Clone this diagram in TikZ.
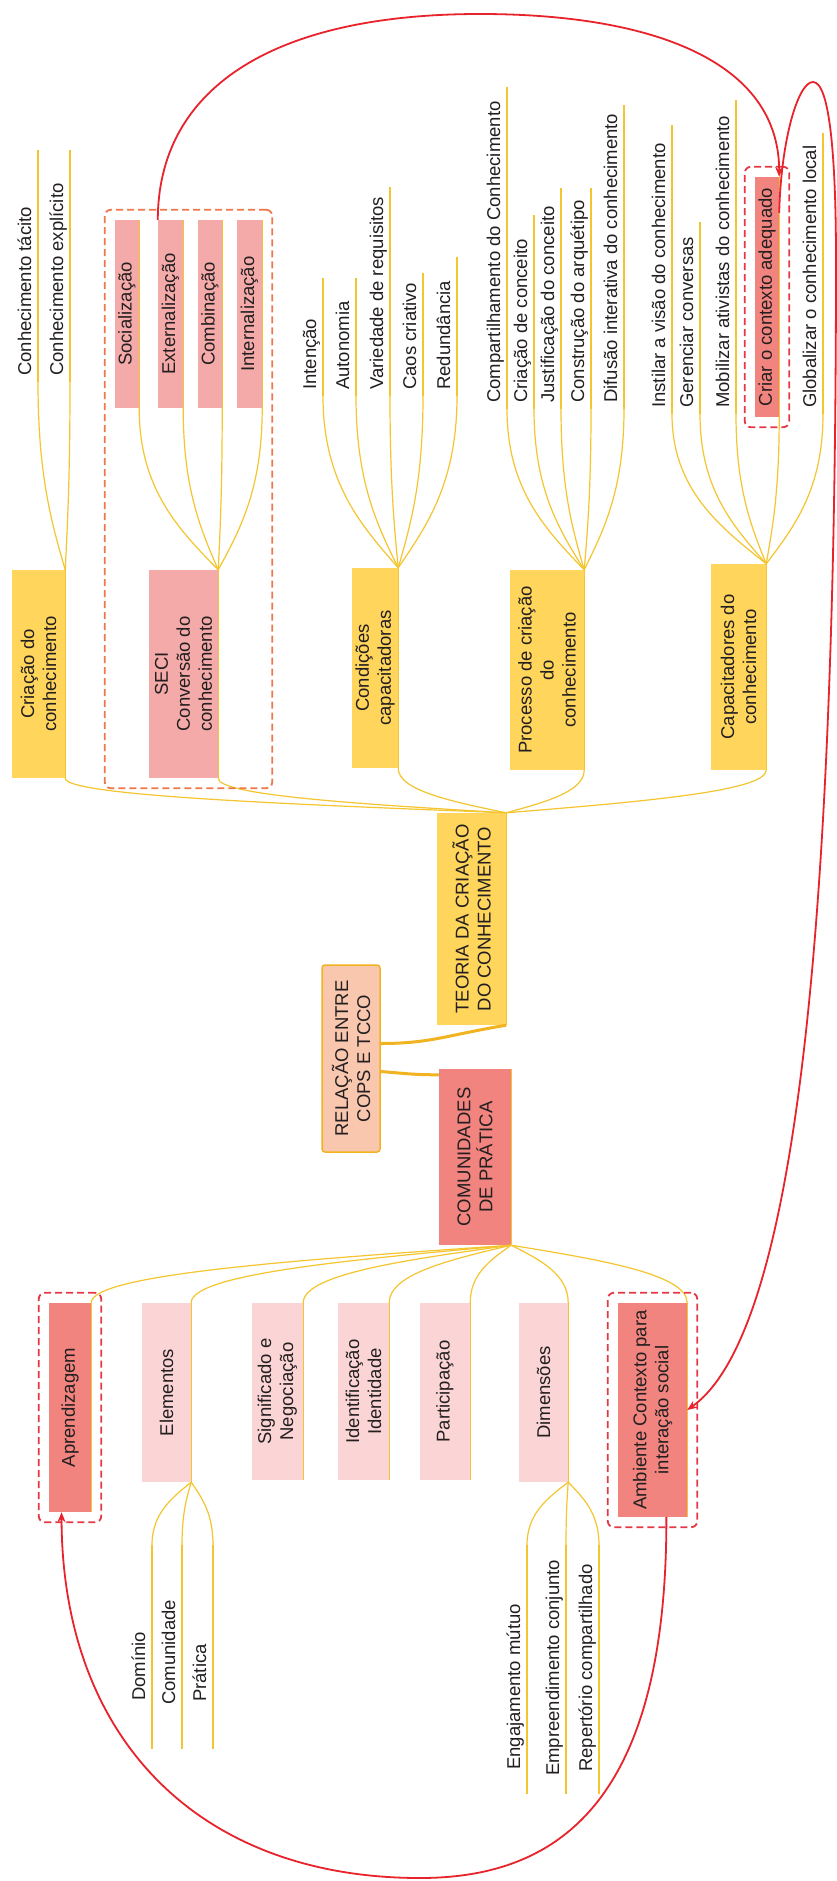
\documentclass[tikz,border=0pt]{standalone}
\usepackage{fontspec}
\setmainfont{Liberation Sans}
\usetikzlibrary{arrows.meta,calc,fit}
\definecolor{txtc}{HTML}{231F20}
\definecolor{ybox}{HTML}{FFD55C}
\definecolor{pbox}{HTML}{F5AAAA}
\definecolor{lpbox}{HTML}{FBD5D5}
\definecolor{sbox}{HTML}{F1847F}
\definecolor{relf}{HTML}{F9C7AE}
\definecolor{gold}{HTML}{F2B320}
\definecolor{brc}{HTML}{F4C52E}
\definecolor{redc}{HTML}{E8232B}
\definecolor{odash}{HTML}{EF774A}
\definecolor{rdash}{HTML}{E63844}
\newcommand\leaf[6]{%
  \coordinate (#1-t) at (#2,#3);
  \coordinate (#1-b) at (#2,#4);
  \node[leaftext] (#1) at ({#2-7},#5) {#6};
  \draw[uline] (#1-b) -- (#1-t);
}
\begin{document}
\begin{tikzpicture}[x=1pt,y=-1pt,
  txt/.style={font=\fontsize{18.5}{22}\selectfont, text=txtc},
  box/.style={txt, rotate=90, inner sep=0pt, align=center},
  leaftext/.style={txt, rotate=90, anchor=base west, inner sep=0pt},
  uline/.style={draw=brc, line width=1.2pt},
  branch/.style={draw=brc, line width=1.2pt, to path={let \p1=(\tikztostart), \p2=(\tikztotarget) in .. controls ({\x1+0.5*(\x2-\x1)},{\y1+0.25*(\y2-\y1)}) and (\x2,{0.5*(\y1+\y2)}) .. (\tikztotarget)}},
  trunk/.style={draw=gold, line width=3pt},
  dashbox/.style={dash pattern=on 7pt off 4pt, line width=1.8pt, rounded corners=6pt, inner sep=10pt},
  redarrow/.style={draw=redc, line width=1.8pt, -{Stealth[length=10pt,width=8pt]}}
]
\useasboundingbox (0,0) rectangle (837,1881);
\fill[white] (0,0) rectangle (837,1881);

% central nodes
\node[box, fill=relf, draw=gold, line width=1.5pt, rounded corners=3pt, minimum width=187pt, minimum height=58pt] (rel) at (351,1058.5) {RELAÇÃO ENTRE\\COPS E TCCO};
\node[box, fill=ybox, minimum width=212pt, minimum height=69pt] (teo) at (471.5,919) {TEORIA DA CRIAÇÃO\\DO CONHECIMENTO};
\node[box, fill=sbox, minimum width=176pt, minimum height=72pt] (com) at (475,1157) {COMUNIDADES\\DE PRÁTICA};
\draw[uline] (teo.south west) -- (teo.south east);
\draw[uline] (com.south west) -- (com.south east);

\draw[trunk] ($(rel.south)+(0,-15)$) .. controls +(50,0) and +(-60,10) .. (teo.south west);
\draw[trunk] ($(rel.south)+(0,13)$) .. controls +(25,2) and +(-25,0) .. ($(com.north east)+(0,6)$);

% TCCO second level
\node[box, fill=ybox, minimum width=208pt, minimum height=53pt] (crt) at (38.5,674) {Criação do\\conhecimento};
\node[box, fill=pbox, minimum width=208pt, minimum height=69pt] (seci) at (183.5,674) {SECI\\Conversão do\\conhecimento};
\node[box, fill=ybox, minimum width=200pt, minimum height=46pt] (cond) at (375,668) {Condições\\capacitadoras};
\node[box, fill=ybox, minimum width=200pt, minimum height=74pt] (proc) at (547,670) {Processo de criação\\do\\conhecimento};
\node[box, fill=ybox, minimum width=206pt, minimum height=55pt] (capa) at (738.5,667) {Capacitadores do\\conhecimento};
\foreach \nm in {crt,seci,cond,proc,capa} {\draw[uline] (\nm.south west) -- (\nm.south east);}
\draw[branch] (teo.south east) to (crt.south west);
\draw[branch] (teo.south east) to (seci.south west);
\draw[branch] (teo.south east) to (cond.south west);
\draw[branch] (teo.south east) to (proc.south west);
\draw[branch] (teo.south east) to (capa.south west);

% SECI children
\node[box, fill=pbox, minimum width=188pt, minimum height=24pt] (soc) at (127,314) {Socialização};
\node[box, fill=pbox, minimum width=188pt, minimum height=25pt] (ext) at (170.5,314) {Externalização};
\node[box, fill=pbox, minimum width=188pt, minimum height=24pt] (comb) at (210,314) {Combinação};
\node[box, fill=pbox, minimum width=188pt, minimum height=25pt] (intz) at (249.5,314) {Internalização};
\foreach \nm in {soc,ext,comb,intz} {\draw[uline] (\nm.south west) -- (\nm.south east);}
\draw[branch] (seci.south east) to (soc.south west);
\draw[branch] (seci.south east) to (ext.south west);
\draw[branch] (seci.south east) to (comb.south west);
\draw[branch] (seci.south east) to (intz.south west);

% Criacao children
\leaf{ct}{38}{150}{382}{376}{Conhecimento tácito}
\leaf{ce}{70}{150}{382}{376}{Conhecimento explícito}
\draw[branch] (crt.south east) to (ct-b);
\draw[branch] (crt.south east) to (ce-b);

% Condicoes children
\leaf{lin}{323}{278}{396}{390}{Intenção}
\leaf{lau}{356}{278}{396}{390}{Autonomia}
\leaf{lva}{390}{187}{396}{390}{Variedade de requisitos}
\leaf{lca}{423}{273}{396}{390}{Caos criativo}
\leaf{lre}{457}{257}{396}{390}{Redundância}
\draw[branch] (cond.south east) to (lin-b);
\draw[branch] (cond.south east) to (lau-b);
\draw[branch] (cond.south east) to (lva-b);
\draw[branch] (cond.south east) to (lca-b);
\draw[branch] (cond.south east) to (lre-b);

% Processo children
\leaf{pco}{507}{87}{409}{403}{Compartilhamento do Conhecimento}
\leaf{pcc}{534}{215}{409}{403}{Criação de conceito}
\leaf{pjc}{561}{188}{409}{403}{Justificação do conceito}
\leaf{pca}{591}{188}{409}{403}{Construção do arquétipo}
\leaf{pdi}{624}{105}{409}{403}{Difusão interativa do conhecimento}
\draw[branch] (proc.south east) to (pco-b);
\draw[branch] (proc.south east) to (pcc-b);
\draw[branch] (proc.south east) to (pjc-b);
\draw[branch] (proc.south east) to (pca-b);
\draw[branch] (proc.south east) to (pdi-b);

% Capacitadores children
\leaf{kis}{672}{125}{414}{408}{Instilar a visão do conhecimento}
\leaf{kge}{700}{222}{414}{408}{Gerenciar conversas}
\leaf{kmo}{736}{100}{414}{408}{Mobilizar ativistas do conhecimento}
\node[box, fill=sbox, minimum width=240pt, minimum height=24pt] (criar) at (767,297) {Criar o contexto adequado};
\draw[uline] (criar.south west) -- (criar.south east);
\leaf{kgl}{823}{133}{414}{408}{Globalizar o conhecimento local}
\draw[branch] (capa.south east) to (kis-b);
\draw[branch] (capa.south east) to (kge-b);
\draw[branch] (capa.south east) to (kmo-b);
\draw[branch] (capa.south east) to (criar.south west);
\draw[branch] (capa.south east) to (kgl-b);

% CoP children
\node[box, fill=sbox, minimum width=209pt, minimum height=42pt] (apr) at (70,1407.5) {Aprendizagem};
\node[box, fill=lpbox, minimum width=179pt, minimum height=49pt] (ele) at (166.5,1392.5) {Elementos};
\node[box, fill=lpbox, minimum width=177pt, minimum height=51pt] (sig) at (277.5,1391.5) {Significado e\\Negociação};
\node[box, fill=lpbox, minimum width=177pt, minimum height=51pt] (ide) at (363.5,1391.5) {Identificação\\Identidade};
\node[box, fill=lpbox, minimum width=177pt, minimum height=50pt] (par) at (445,1391.5) {Participação};
\node[box, fill=lpbox, minimum width=179pt, minimum height=49pt] (dim) at (543.5,1392.5) {Dimensões};
\node[box, fill=sbox, minimum width=214pt, minimum height=69pt] (amb) at (652.5,1410) {Ambiente Contexto para\\interação social};
\foreach \nm in {apr,ele,sig,ide,par,dim,amb} {\draw[uline] (\nm.south west) -- (\nm.south east);}
\draw[branch] (com.south west) to (apr.south east);
\draw[branch] (com.south west) to (ele.south east);
\draw[branch] (com.south west) to (sig.south east);
\draw[branch] (com.south west) to (ide.south east);
\draw[branch] (com.south west) to (par.south east);
\draw[branch] (com.south west) to (dim.south east);
\draw[branch] (com.south west) to (amb.south east);

% Elementos children
\leaf{edo}{152}{1545}{1749}{1701}{Domínio}
\leaf{ecm}{182}{1545}{1749}{1705}{Comunidade}
\leaf{epr}{213}{1545}{1749}{1702}{Prática}
\draw[branch] (ele.south west) to (edo-t);
\draw[branch] (ele.south west) to (ecm-t);
\draw[branch] (ele.south west) to (epr-t);

% Dimensoes children
\leaf{den}{527}{1545}{1794}{1770}{Engajamento mútuo}
\leaf{dem}{566}{1545}{1794}{1776}{Empreendimento conjunto}
\leaf{drp}{599}{1545}{1794}{1772}{Repertório compartilhado}
\draw[branch] (dim.south west) to (den-t);
\draw[branch] (dim.south west) to (dem-t);
\draw[branch] (dim.south west) to (drp-t);

% dashed frames
\node[dashbox, draw=odash, fit=(soc.north east)(intz.south east)(seci.south west)(seci.north west)] (fseci) {};
\node[dashbox, draw=rdash, fit=(criar.north east)(criar.south west)] (fcriar) {};
\node[dashbox, draw=rdash, fit=(apr.north east)(apr.south west)] (fapr) {};
\node[dashbox, draw=rdash, fit=(amb.north east)(amb.south west)] (famb) {};

% red arrows
\draw[redarrow] (ext.north east) .. controls (158,90) and (270,14) .. (480,14) .. controls (650,14) and (779,60) .. (criar.south east);
\draw[redarrow] ($(criar.south east)!0.15!(criar.south west)$) .. controls (781,140) and (798,82) .. (813,82) .. controls (830,82) and (836,160) .. (836,260) .. controls (836,900) and (800,1330) .. (amb.south);
\draw[redarrow] ($(amb.south west)!0.3!(amb.north west)$) .. controls (667,1800) and (560,1878) .. (420,1878) .. controls (200,1878) and (62,1740) .. ($(apr.north west)!0.3!(apr.south west)$);
\end{tikzpicture}
\end{document}
